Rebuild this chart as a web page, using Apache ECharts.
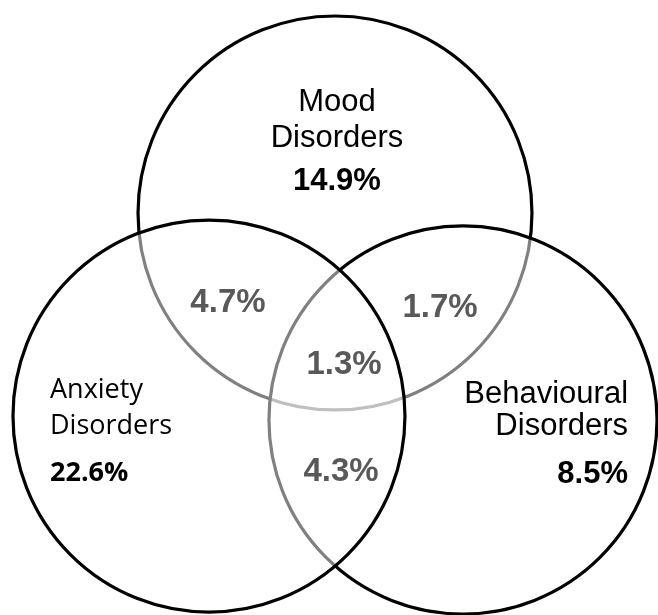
<!DOCTYPE html>
<html><head><meta charset="utf-8">
<script src="https://cdn.jsdelivr.net/npm/echarts@6/dist/echarts.min.js"></script>
<style>html,body{margin:0;padding:0;background:#fff}#c{width:658px;height:615px}</style>
</head><body><div id="c"></div>
<script>
// ---- data ----
const setNames = ['Mood\nDisorders', 'Anxiety\nDisorders', 'Behavioural\nDisorders'];
const setValues = [14.9, 22.6, 8.5];
const overlapNames = ['Mood & Anxiety', 'Mood & Behavioural', 'Mood & Anxiety & Behavioural', 'Anxiety & Behavioural'];
const overlapValues = [4.7, 1.7, 1.3, 4.3];

// ---- layout (units of one circle radius, Mood centre at origin) ----
const circleCenters = [[0, 0], [-0.643, -1.036], [0.653, -1.056]];
const circleRadii = [1.005, 1.0, 0.99];
const circleLayer = [0, 2, 1];
const setNameAnchors = [[0.01, 0.47], [-1.454, -0.995], [1.495, -1.005]];
const setValueAnchors = [[0.01, 0.16], [-1.454, -1.327], [1.495, -1.335]];
const setAlign = ['center', 'left', 'right'];
const setFonts = ['"Liberation Sans", Arial, sans-serif', '"Open Sans", sans-serif', '"Liberation Sans", Arial, sans-serif'];
const setFontSizes = [31, 27, 31];
const setValueFontSizes = [31, 27, 31];
const setLineHeights = [36, 36, 32];
const overlapAnchors = [[-0.546, -0.459], [0.536, -0.485], [0.046, -0.776], [0.031, -1.321]];

const chart = echarts.init(document.getElementById('c'));

const circleData = circleCenters.map((c, i) => [c[0], c[1], circleRadii[i], circleLayer[i]]);
const setLabelData = setNames.map((n, i) => ({
  value: [setNameAnchors[i][0], setNameAnchors[i][1], setValueAnchors[i][0], setValueAnchors[i][1]],
  name: n
}));
const overlapData = overlapNames.map((n, i) => ({ value: [overlapAnchors[i][0], overlapAnchors[i][1], overlapValues[i]], name: n }));

chart.setOption({
  animation: false,
  backgroundColor: '#ffffff',
  grid: { left: 0, right: 0, top: 0, bottom: 0 },
  xAxis: { type: 'value', min: -1.7092, max: 1.6480, show: false },
  yAxis: { type: 'value', min: -2.0510, max: 1.0867, show: false },
  series: [
    {
      type: 'custom', z: 2,
      data: circleData,
      renderItem: (params, api) => {
        const c = api.coord([api.value(0), api.value(1)]);
        const r = api.size([api.value(2), 0])[0];
        return {
          type: 'circle', z2: api.value(3),
          shape: { cx: c[0], cy: c[1], r: r },
          style: { fill: 'rgba(255,255,255,0.5)', stroke: '#000', lineWidth: 3.2 }
        };
      }
    },
    {
      type: 'custom', z: 3,
      data: setLabelData,
      renderItem: (params, api) => {
        const i = params.dataIndex;
        const p1 = api.coord([api.value(0), api.value(1)]);
        const p2 = api.coord([api.value(2), api.value(3)]);
        return {
          type: 'group',
          children: [
            { type: 'text', x: p1[0], y: p1[1],
              style: { text: setNames[i], fill: '#000', align: setAlign[i], verticalAlign: 'middle',
                       fontFamily: setFonts[i], fontSize: setFontSizes[i], lineHeight: setLineHeights[i] } },
            { type: 'text', x: p2[0], y: p2[1],
              style: { text: setValues[i].toFixed(1) + '%', fill: '#000', align: setAlign[i], verticalAlign: 'middle',
                       fontFamily: setFonts[i], fontWeight: 'bold', fontSize: setValueFontSizes[i] } }
          ]
        };
      }
    },
    {
      type: 'custom', z: 3,
      data: overlapData,
      renderItem: (params, api) => {
        const p = api.coord([api.value(0), api.value(1)]);
        return { type: 'text', x: p[0], y: p[1],
          style: { text: api.value(2).toFixed(1) + '%', fill: '#595959', align: 'center', verticalAlign: 'middle',
                   fontFamily: '"Liberation Sans", Arial, sans-serif', fontWeight: 'bold', fontSize: 33 } };
      }
    }
  ]
});
</script></body></html>
